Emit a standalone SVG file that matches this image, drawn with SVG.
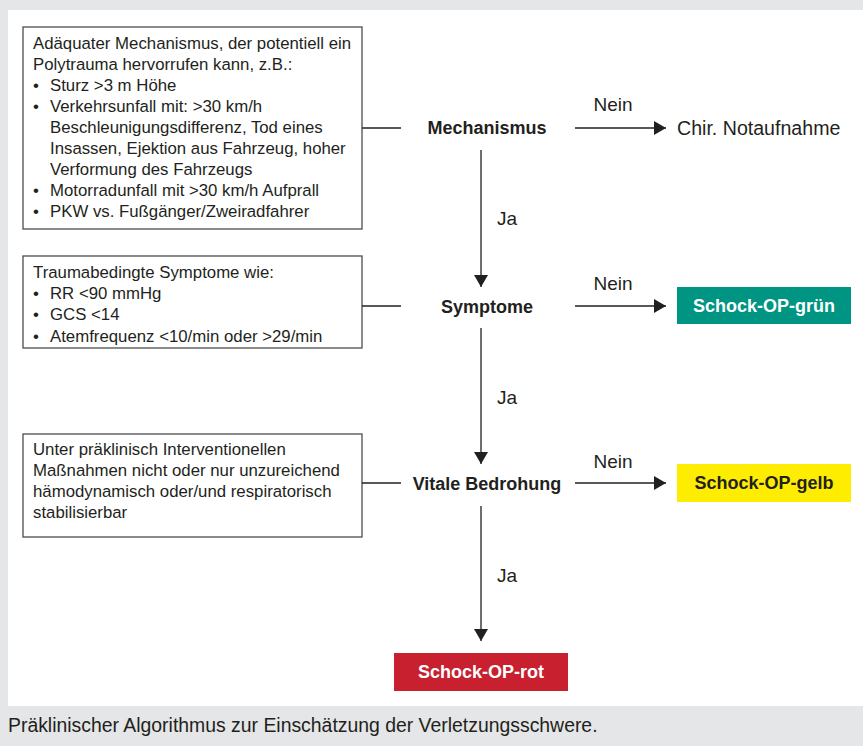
<svg xmlns="http://www.w3.org/2000/svg" width="863" height="746" viewBox="0 0 863 746">
<style>
.t{font-family:"Liberation Sans",Arial,sans-serif;font-size:16.8px;fill:#231f20}
.b{font-family:"Liberation Sans",Arial,sans-serif;font-size:18px;font-weight:bold;fill:#231f20}
.l{font-family:"Liberation Sans",Arial,sans-serif;font-size:19px;fill:#231f20}
.box{fill:#fff;stroke:#4d4d4d;stroke-width:1.3}
.c{stroke:#231f20;stroke-width:1.3;fill:none}
</style>
<defs>
<marker id="ah" viewBox="0 0 12 14" refX="12" refY="7" markerWidth="12" markerHeight="14" markerUnits="userSpaceOnUse" orient="auto">
<path d="M0,0 L12,7 L0,14 Z" fill="#231f20"/>
</marker>
</defs>
<rect x="0" y="0" width="863" height="746" fill="#e5e6e7"/>
<rect x="8" y="10" width="855" height="696" fill="#fff"/>

<g id="box-mechanismus">
<rect class="box" x="23" y="27" width="339" height="202"/>
<text class="t" x="33" y="49">Adäquater Mechanismus, der potentiell ein</text>
<text class="t" x="33" y="70">Polytrauma hervorrufen kann, z.B.:</text>
<text class="t" x="33" y="91">•</text><text class="t" x="50" y="91">Sturz &gt;3 m Höhe</text>
<text class="t" x="33" y="112">•</text><text class="t" x="50" y="112">Verkehrsunfall mit: &gt;30 km/h</text>
<text class="t" x="50" y="133">Beschleunigungsdifferenz, Tod eines</text>
<text class="t" x="50" y="154">Insassen, Ejektion aus Fahrzeug, hoher</text>
<text class="t" x="50" y="175">Verformung des Fahrzeugs</text>
<text class="t" x="33" y="196">•</text><text class="t" x="50" y="196">Motorradunfall mit &gt;30 km/h Aufprall</text>
<text class="t" x="33" y="217">•</text><text class="t" x="50" y="217">PKW vs. Fußgänger/Zweiradfahrer</text>
</g>

<g id="box-symptome">
<rect class="box" x="23" y="256" width="339" height="92"/>
<text class="t" x="33" y="278">Traumabedingte Symptome wie:</text>
<text class="t" x="33" y="299">•</text><text class="t" x="50" y="299">RR &lt;90 mmHg</text>
<text class="t" x="33" y="320">•</text><text class="t" x="50" y="320">GCS &lt;14</text>
<text class="t" x="33" y="342">•</text><text class="t" x="50" y="342">Atemfrequenz &lt;10/min oder &gt;29/min</text>
</g>

<g id="box-vital">
<rect class="box" x="23" y="434" width="339" height="103"/>
<text class="t" x="33" y="455">Unter präklinisch Interventionellen</text>
<text class="t" x="33" y="476">Maßnahmen nicht oder nur unzureichend</text>
<text class="t" x="33" y="497">hämodynamisch oder/und respiratorisch</text>
<text class="t" x="33" y="518">stabilisierbar</text>
</g>

<g id="node-mechanismus"><text class="b" x="487" y="134" text-anchor="middle">Mechanismus</text></g>
<g id="node-symptome"><text class="b" x="487" y="313" text-anchor="middle">Symptome</text></g>
<g id="node-vital"><text class="b" x="487" y="490" text-anchor="middle">Vitale Bedrohung</text></g>

<g id="node-notaufnahme"><text class="l" x="677" y="135" style="font-size:19.6px">Chir. Notaufnahme</text></g>
<g id="node-gruen">
<rect x="677" y="287" width="174" height="37" fill="#009483"/>
<text class="b" x="764" y="312" text-anchor="middle" style="fill:#fff">Schock-OP-grün</text>
</g>
<g id="node-gelb">
<rect x="677" y="464" width="174" height="38" fill="#ffed00"/>
<text class="b" x="764" y="489" text-anchor="middle">Schock-OP-gelb</text>
</g>
<g id="node-rot">
<rect x="394" y="653" width="174" height="38" fill="#c8202f"/>
<text class="b" x="481" y="678" text-anchor="middle" style="fill:#fff">Schock-OP-rot</text>
</g>

<g id="connectors">
<line class="c" x1="362" y1="128" x2="401" y2="128"/>
<line class="c" x1="362" y1="306" x2="401" y2="306"/>
<line class="c" x1="362" y1="483" x2="401" y2="483"/>
<line class="c" x1="575" y1="128" x2="666" y2="128" marker-end="url(#ah)"/>
<line class="c" x1="575" y1="306" x2="666" y2="306" marker-end="url(#ah)"/>
<line class="c" x1="575" y1="483" x2="666" y2="483" marker-end="url(#ah)"/>
<line class="c" x1="481" y1="150" x2="481" y2="287" marker-end="url(#ah)"/>
<line class="c" x1="481" y1="328" x2="481" y2="464" marker-end="url(#ah)"/>
<line class="c" x1="481" y1="506" x2="481" y2="641" marker-end="url(#ah)"/>
<text class="l" x="613" y="111" text-anchor="middle">Nein</text>
<text class="l" x="613" y="290" text-anchor="middle">Nein</text>
<text class="l" x="613" y="468" text-anchor="middle">Nein</text>
<text class="l" x="497" y="225">Ja</text>
<text class="l" x="497" y="404">Ja</text>
<text class="l" x="497" y="582">Ja</text>
</g>

<text class="l" x="8" y="732" style="font-size:19.4px">Präklinischer Algorithmus zur Einschätzung der Verletzungsschwere.</text>
</svg>
